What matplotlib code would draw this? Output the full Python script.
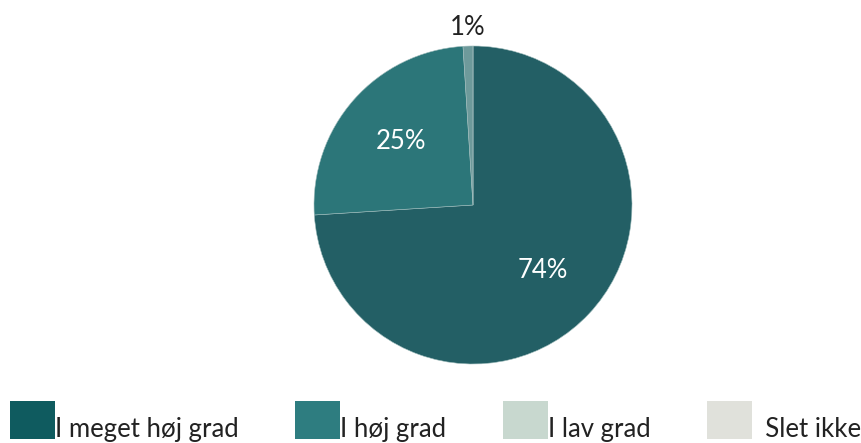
import matplotlib.pyplot as plt
import matplotlib.patches as mpatches
import matplotlib.transforms as mtransforms
import numpy as np

plt.rcParams['font.family'] = ['Lato', 'DejaVu Sans']

categories = ['I meget høj grad', 'I høj grad', 'I lav grad', 'Slet ikke']
values = [74, 25, 1, 0]

pie_colors = ['#235f65', '#2c7679', '#6e9a9b', '#dcddd6']
legend_colors = ['#0f5b5f', '#2e7d80', '#c8d8cf', '#e0e1db']

W, H = 861, 443
fig = plt.figure(figsize=(W / 100, H / 100), dpi=100)

cx, cy, r = 473, 205, 159
ax = fig.add_axes([(cx - r) / W, (H - cy - r) / H, 2 * r / W, 2 * r / H])

wedges, _ = ax.pie(values, colors=pie_colors, startangle=90, counterclock=False,
                   wedgeprops=dict(edgecolor='#9fbcbc', linewidth=0.4))
ax.set_xlim(-1, 1)
ax.set_ylim(-1, 1)
ax.set_aspect('equal')

total = sum(values)
for w, v in zip(wedges, values):
    if v == 0:
        continue
    pct = v / total * 100
    ang = np.deg2rad((w.theta1 + w.theta2) / 2)
    if pct < 5:
        d, col = 1.12, '#222222'
    else:
        d, col = 0.6, 'white'
    ax.text(d * np.cos(ang), d * np.sin(ang), f'{pct:.0f}%', ha='center', va='center',
            fontsize=18.5, color=col)

handles = [mpatches.Patch(facecolor=c, edgecolor='none') for c in legend_colors]
labels = categories[:3] + ['  ' + categories[3]]
leg = fig.legend(handles, labels, loc='lower left', bbox_to_anchor=(10 / W, 4 / H),
                 ncol=4, frameon=False, handlelength=1.75, handleheight=1.9,
                 handletextpad=0.0, columnspacing=2.2, borderaxespad=0, borderpad=0,
                 labelcolor='#222222', prop=dict(size=18.5))
shift = mtransforms.Affine2D().translate(0, -9)
for t in leg.get_texts():
    t.set_transform(t.get_transform() + shift)

fig.savefig('out.png', dpi=100)
